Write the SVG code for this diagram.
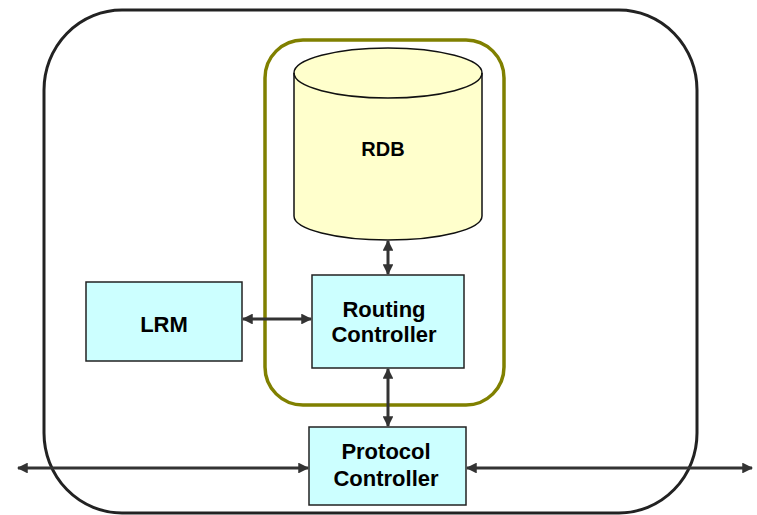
<svg xmlns="http://www.w3.org/2000/svg" width="757" height="515" viewBox="0 0 757 515">
<style>
.box{fill:#CCFFFF;stroke:#222;stroke-width:1.5}
.lbl{font-family:"Liberation Sans",Arial,sans-serif;font-weight:bold;font-size:22px;fill:#000;text-anchor:middle}
.conn{stroke:#333;stroke-width:3;fill:none;marker-start:url(#ah);marker-end:url(#ah)}
</style>
<defs>
<marker id="ah" viewBox="0 0 10 10" refX="9" refY="5" markerWidth="3.6" markerHeight="3.6" orient="auto-start-reverse" markerUnits="strokeWidth">
<path d="M0,0 L10,5 L0,10 z" fill="#333"/>
</marker>
</defs>
<rect id="outer" x="44" y="10" width="653" height="503" rx="78" ry="80" fill="none" stroke="#222" stroke-width="3"/>
<rect id="rc-group" x="265" y="40" width="239" height="365" rx="38" ry="38" fill="none" stroke="#808000" stroke-width="3.5"/>
<g id="rdb">
<path d="M294,73 L294,216 A94,24 0 0 0 482,216 L482,73 A94,25 0 0 0 294,73 Z" fill="#FFFFCC" stroke="#111" stroke-width="1.5"/>
<path d="M294,73 A94,25 0 0 0 482,73" fill="none" stroke="#111" stroke-width="1.5"/>
<text class="lbl" x="383" y="156" style="font-size:20px">RDB</text>
</g>
<g id="lrm">
<rect class="box" x="86" y="282" width="156" height="79"/>
<text class="lbl" x="164" y="332">LRM</text>
</g>
<g id="routing">
<rect class="box" x="312" y="275" width="152" height="93"/>
<text class="lbl" x="384" y="317">Routing</text>
<text class="lbl" x="384" y="342">Controller</text>
</g>
<g id="protocol">
<rect class="box" x="309" y="427" width="157" height="78"/>
<text class="lbl" x="386" y="459">Protocol</text>
<text class="lbl" x="386" y="486">Controller</text>
</g>
<g id="connectors">
<line class="conn" x1="388" y1="241" x2="388" y2="274"/>
<line class="conn" x1="388" y1="369" x2="388" y2="426"/>
<line class="conn" x1="243" y1="319" x2="311" y2="319"/>
<line class="conn" x1="18" y1="468" x2="308" y2="468"/>
<line class="conn" x1="467" y1="468" x2="752" y2="468"/>
</g>
</svg>
